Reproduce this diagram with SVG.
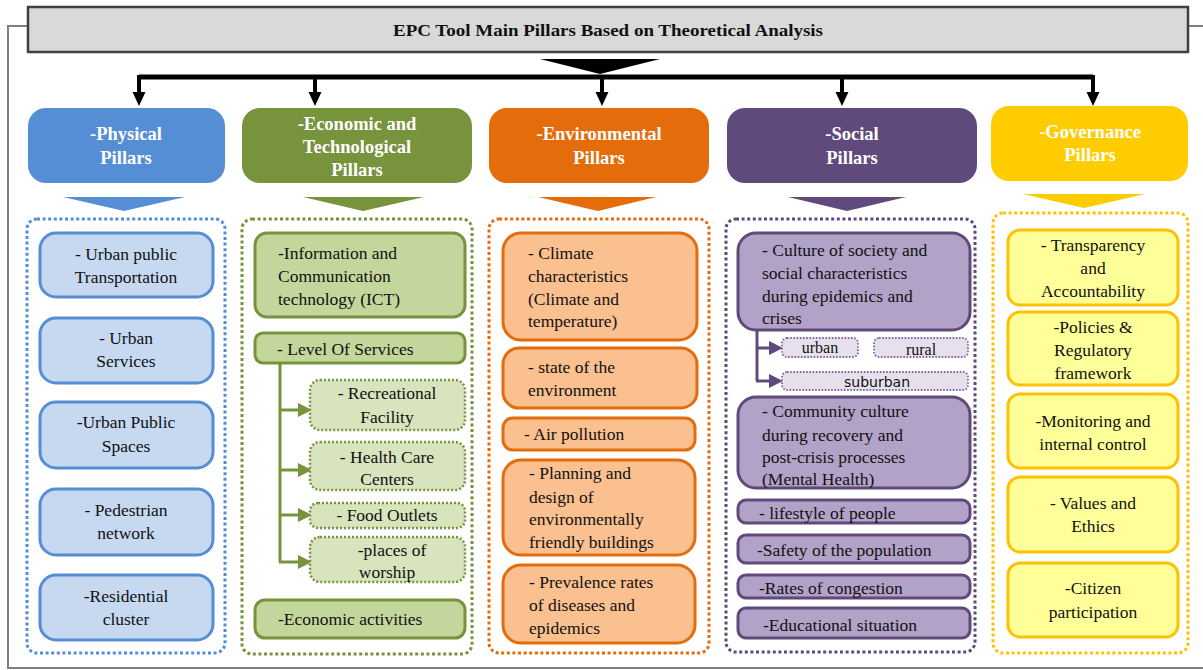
<svg xmlns="http://www.w3.org/2000/svg" width="1203" height="670" viewBox="0 0 1203 670" font-family="'Liberation Serif', 'Times New Roman', 'DejaVu Serif', serif">
<style>
text{font-family:'Liberation Serif','Times New Roman','DejaVu Serif',serif;font-size:17.5px;fill:#111}
.c{text-anchor:middle}
.h{font-size:18.5px;font-weight:bold;fill:#fff;text-anchor:middle}
.cont{fill:none;stroke-width:3;stroke-dasharray:3 2.6}
.b{stroke-width:3}
.bl{fill:#c6d9f1;stroke:#558ed5}
.gr{fill:#c3d69b;stroke:#77933c}
.grs{fill:#d7e4bd;stroke:#77933c;stroke-width:2.5;stroke-dasharray:2 2}
.or{fill:#fac090;stroke:#e46c0a}
.pu{fill:#b3a2c7;stroke:#604a7b}
.pus{fill:#e6e0ec;stroke:#8064a2;stroke-width:1.8;stroke-dasharray:1.6 1.6}
.go{fill:#ffff99;stroke:#ffc000}
</style>
<defs>
<marker id="ak" markerUnits="userSpaceOnUse" markerWidth="14" markerHeight="14" refX="0" refY="6" orient="auto" viewBox="0 0 13 12"><path d="M0,0 L13,6 L0,12 z" fill="#000"/></marker>
<marker id="ag" markerUnits="userSpaceOnUse" markerWidth="14" markerHeight="14" refX="0" refY="6.5" orient="auto" viewBox="0 0 13 13"><path d="M0,0 L13,6.5 L0,13 z" fill="#77933c"/></marker>
<marker id="ap" markerUnits="userSpaceOnUse" markerWidth="14" markerHeight="14" refX="0" refY="6.5" orient="auto" viewBox="0 0 13 13"><path d="M0,0 L13,6.5 L0,13 z" fill="#604a7b"/></marker>
</defs>
<rect width="1203" height="670" fill="#fff"/>
<g id="frame" fill="none" stroke="#7f7f7f" stroke-width="2">
<path d="M28,26 H8 V668 H1203"/>
<path d="M1188,26 H1203"/>
</g>
<g id="title">
<rect x="28" y="7" width="1160" height="45" fill="#d9d9d9" stroke="#404040" stroke-width="2.5"/>
<text x="608" y="36" class="c" style="font-weight:bold;font-size:17px" textLength="430" lengthAdjust="spacingAndGlyphs">EPC Tool Main Pillars  Based on Theoretical Analysis</text>
</g>
<g id="connectors">
<polygon points="540,59 660,59 600,74" fill="#000"/>
<path d="M139,77 H1093" stroke="#000" stroke-width="5" fill="none"/>
<g stroke="#000" stroke-width="4">
<line x1="139" y1="75" x2="139" y2="92" marker-end="url(#ak)"/>
<line x1="315" y1="75" x2="315" y2="92" marker-end="url(#ak)"/>
<line x1="602" y1="75" x2="602" y2="92" marker-end="url(#ak)"/>
<line x1="842" y1="75" x2="842" y2="92" marker-end="url(#ak)"/>
<line x1="1093" y1="75" x2="1093" y2="92" marker-end="url(#ak)"/>
</g>
<polygon points="63,197 185,197 124,211" fill="#558ed5"/>
<polygon points="303,197 424,197 363,211" fill="#77933c"/>
<polygon points="538,197 656,197 598,211" fill="#e46c0a"/>
<polygon points="788,197 906,197 847,211" fill="#604a7b"/>
<polygon points="1023,194 1145,194 1084,208" fill="#ffcc00"/>
<g stroke="#77933c" stroke-width="3" fill="none">
<path d="M280,363 V562"/>
<line x1="279" y1="410" x2="298" y2="410" marker-end="url(#ag)"/>
<line x1="279" y1="470" x2="298" y2="470" marker-end="url(#ag)"/>
<line x1="279" y1="515" x2="298" y2="515" marker-end="url(#ag)"/>
<line x1="279" y1="562" x2="298" y2="562" marker-end="url(#ag)"/>
</g>
<g stroke="#604a7b" stroke-width="3" fill="none">
<path d="M757,326 V381"/>
<line x1="756" y1="348" x2="769" y2="348" marker-end="url(#ap)"/>
<line x1="756" y1="381" x2="769" y2="381" marker-end="url(#ap)"/>
</g>
</g>
<g id="physical">
<rect x="28" y="108" width="197" height="75" rx="18" fill="#558ed5"/>
<text class="h" x="126" y="140">-Physical</text>
<text class="h" x="126" y="164">Pillars</text>
<rect class="cont" x="27" y="219" width="198" height="434" rx="10" stroke="#558ed5"/>
<rect class="b bl" x="40" y="233" width="173" height="64" rx="16"/>
<text class="c" x="126" y="260">- Urban public</text><text class="c" x="126" y="283">Transportation</text>
<rect class="b bl" x="40" y="318" width="173" height="65" rx="16"/>
<text class="c" x="126" y="344">- Urban</text><text class="c" x="126" y="367">Services</text>
<rect class="b bl" x="40" y="402" width="173" height="66" rx="16"/>
<text class="c" x="126" y="428">-Urban Public</text><text class="c" x="126" y="452">Spaces</text>
<rect class="b bl" x="40" y="489" width="173" height="66" rx="16"/>
<text class="c" x="126" y="516">- Pedestrian</text><text class="c" x="126" y="539">network</text>
<rect class="b bl" x="40" y="575" width="173" height="65" rx="16"/>
<text class="c" x="126" y="602">-Residential</text><text class="c" x="126" y="625">cluster</text>
</g>
<g id="economic">
<rect x="242" y="108" width="230" height="75" rx="18" fill="#77933c"/>
<text class="h" x="357" y="130">-Economic  and</text>
<text class="h" x="357" y="153">Technological</text>
<text class="h" x="357" y="176">Pillars</text>
<rect class="cont" x="242" y="219" width="230" height="435" rx="10" stroke="#77933c"/>
<rect class="b gr" x="255" y="233" width="210" height="84" rx="12"/>
<text x="278" y="259">-Information  and</text>
<text x="278" y="282">Communication</text>
<text x="278" y="305">technology   (ICT)</text>
<rect class="b gr" x="255" y="333" width="210" height="30" rx="8"/>
<text x="277" y="355">- Level  Of Services</text>
<rect class="grs" x="310" y="380" width="155" height="50" rx="10"/>
<text class="c" x="387" y="399">- Recreational</text><text class="c" x="387" y="423">Facility</text>
<rect class="grs" x="310" y="442" width="155" height="48" rx="10"/>
<text class="c" x="387" y="463">- Health  Care</text><text class="c" x="387" y="485">Centers</text>
<rect class="grs" x="310" y="503" width="155" height="25" rx="8"/>
<text class="c" x="387" y="521">- Food Outlets</text>
<rect class="grs" x="310" y="537" width="155" height="45" rx="10"/>
<text class="c" x="392" y="556">-places of</text><text class="c" x="387" y="578">worship</text>
<rect class="b gr" x="255" y="600" width="210" height="38" rx="10"/>
<text x="278" y="625">-Economic  activities</text>
</g>
<g id="environmental">
<rect x="489" y="108" width="220" height="75" rx="18" fill="#e46c0a"/>
<text class="h" x="599" y="140">-Environmental</text>
<text class="h" x="599" y="164">Pillars</text>
<rect class="cont" x="489" y="219" width="220" height="434" rx="10" stroke="#e46c0a"/>
<rect class="b or" x="503" y="233" width="194" height="107" rx="18"/>
<text x="528" y="259">- Climate</text><text x="528" y="282">characteristics</text><text x="528" y="305">(Climate  and</text><text x="528" y="327">temperature)</text>
<rect class="b or" x="503" y="348" width="194" height="60" rx="16"/>
<text x="528" y="373">- state of the</text><text x="528" y="396">environment</text>
<rect class="b or" x="503" y="418" width="192" height="32" rx="10"/>
<text x="524" y="440">- Air  pollution</text>
<rect class="b or" x="503" y="460" width="192" height="95" rx="18"/>
<text x="529" y="479">- Planning  and</text><text x="529" y="503">design  of</text><text x="529" y="525">environmentally</text><text x="529" y="548">friendly  buildings</text>
<rect class="b or" x="503" y="565" width="192" height="78" rx="18"/>
<text x="529" y="588">- Prevalence  rates</text><text x="529" y="611">of diseases and</text><text x="529" y="634">epidemics</text>
</g>
<g id="social">
<rect x="727" y="108" width="250" height="75" rx="18" fill="#604a7b"/>
<text class="h" x="852" y="140">-Social</text>
<text class="h" x="852" y="164">Pillars</text>
<rect class="cont" x="726" y="219" width="249" height="433" rx="10" stroke="#604a7b"/>
<rect class="b pu" x="738" y="233" width="232" height="97" rx="18"/>
<text x="762" y="256">- Culture of society and</text><text x="762" y="279">social characteristics</text><text x="762" y="302">during  epidemics  and</text><text x="762" y="324">crises</text>
<rect class="pus" x="782" y="338" width="76" height="19" rx="5"/>
<text class="c" x="820" y="353" style="font-size:16px">urban</text>
<rect class="pus" x="874" y="338" width="94" height="19" rx="5"/>
<text class="c" x="921" y="355" style="font-size:16px">rural</text>
<rect class="pus" x="782" y="372" width="186" height="18" rx="5"/>
<text class="c" x="877" y="387" style="font-family:'DejaVu Sans','Liberation Sans',sans-serif;font-size:14px">suburban</text>
<rect class="b pu" x="738" y="397" width="232" height="91" rx="18"/>
<text x="762" y="417">- Community  culture</text><text x="762" y="441">during  recovery and</text><text x="762" y="463">post-crisis processes</text><text x="762" y="485">(Mental  Health)</text>
<rect class="b pu" x="738" y="500" width="232" height="23" rx="8"/>
<text x="759" y="519">- lifestyle  of people</text>
<rect class="b pu" x="738" y="535" width="232" height="28" rx="8"/>
<text x="757" y="556">-Safety of the population</text>
<rect class="b pu" x="738" y="575" width="232" height="23" rx="8"/>
<text x="759" y="594">-Rates of congestion</text>
<rect class="b pu" x="738" y="608" width="232" height="30" rx="8"/>
<text x="763" y="631">-Educational  situation</text>
</g>
<g id="governance">
<rect x="991" y="106" width="197" height="75" rx="18" fill="#ffcc00"/>
<text class="h" x="1090" y="138">-Governance</text>
<text class="h" x="1090" y="161">Pillars</text>
<rect class="cont" x="993" y="213" width="195" height="440" rx="10" stroke="#ffc000"/>
<rect class="b go" x="1008" y="230" width="170" height="75" rx="12"/>
<text class="c" x="1093" y="251">- Transparency</text><text class="c" x="1093" y="274">and</text><text class="c" x="1093" y="297">Accountability</text>
<rect class="b go" x="1008" y="312" width="170" height="73" rx="12"/>
<text class="c" x="1093" y="333">-Policies  &amp;</text><text class="c" x="1093" y="356">Regulatory</text><text class="c" x="1093" y="379">framework</text>
<rect class="b go" x="1008" y="394" width="170" height="74" rx="12"/>
<text class="c" x="1093" y="427">-Monitoring  and</text><text class="c" x="1093" y="450">internal  control</text>
<rect class="b go" x="1008" y="477" width="170" height="75" rx="12"/>
<text class="c" x="1093" y="509">- Values  and</text><text class="c" x="1093" y="532">Ethics</text>
<rect class="b go" x="1008" y="563" width="170" height="74" rx="12"/>
<text class="c" x="1093" y="594">-Citizen</text><text class="c" x="1093" y="618">participation</text>
</g>
</svg>
